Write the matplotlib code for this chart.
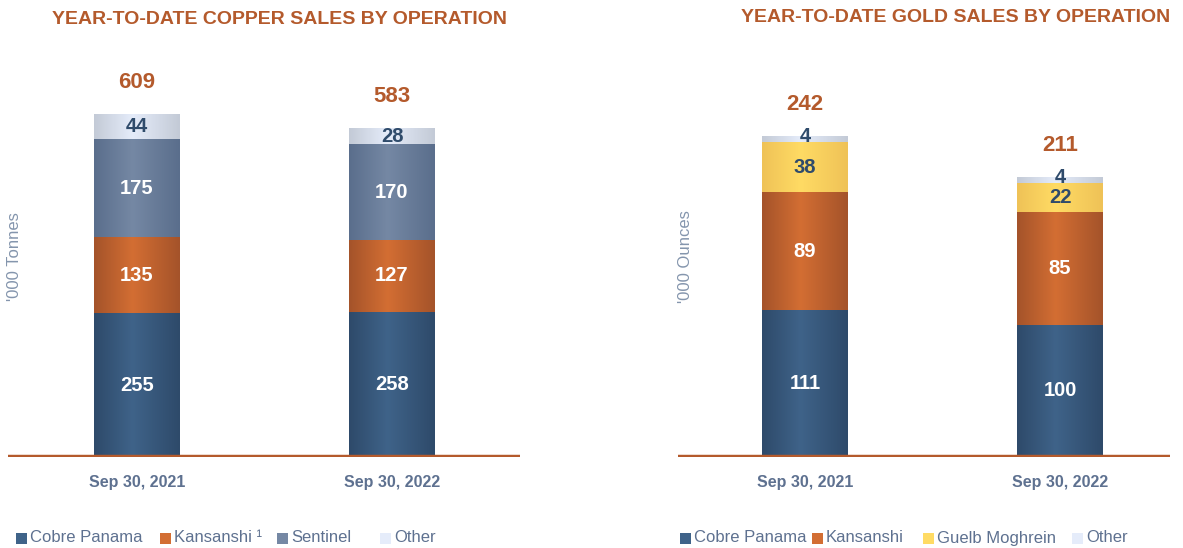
import numpy as np
import matplotlib.pyplot as plt
from matplotlib.colors import LinearSegmentedColormap
from matplotlib.patches import Rectangle

plt.rcParams['font.family'] = ['Liberation Sans', 'DejaVu Sans']

# copper data ('000 tonnes)
periods = ["Sep 30, 2021", "Sep 30, 2022"]
copper_ops = ["Cobre Panama", "Kansanshi", "Sentinel", "Other"]
copper_legend = ["Cobre Panama", "Kansanshi \u00b9", "Sentinel", "Other"]
copper_cobre = [255, 258]
copper_kansanshi = [135, 127]
copper_sentinel = [175, 170]
copper_other = [44, 28]
copper_total = [609, 583]

# gold data ('000 ounces)
gold_ops = ["Cobre Panama", "Kansanshi", "Guelb Moghrein", "Other"]
gold_cobre = [111, 100]
gold_kansanshi = [89, 85]
gold_guelb = [38, 22]
gold_other = [4, 4]
gold_total = [242, 211]

ORANGE = "#B45A2C"
DARK_TXT = "#2F4B6B"
AXIS_TXT = "#5E7190"

# (edge, centre) colours for the gradient fills
grad = {
    "Cobre Panama": ("#2E4A6A", "#3F6389"),
    "Kansanshi": ("#A4532A", "#D36E33"),
    "Sentinel": ("#5A6E8C", "#7588A4"),
    "Guelb Moghrein": ("#EFC257", "#FFDB64"),
    "Other": ("#C3CAD6", "#E5ECFA"),
}
label_col = {
    "Cobre Panama": "white", "Kansanshi": "white", "Sentinel": "white",
    "Guelb Moghrein": DARK_TXT, "Other": DARK_TXT,
}


def make_cmap(name):
    edge, mid = grad[name]
    return LinearSegmentedColormap.from_list(name, [(0, edge), (0.45, mid), (1, edge)])


def stacked(ax, ops, series, totals, width):
    x = np.arange(len(periods))
    bottom = np.zeros(len(periods))
    ramp = np.linspace(0, 1, 256).reshape(1, -1)
    for name, vals in zip(ops, series):
        bars = ax.bar(x, vals, width, bottom=bottom, color=grad[name][1], zorder=2)
        cm = make_cmap(name)
        for b, v in zip(bars, vals):
            x0, y0 = b.get_x(), b.get_y()
            ax.imshow(ramp, cmap=cm, aspect='auto', zorder=3,
                      extent=[x0, x0 + b.get_width(), y0, y0 + b.get_height()])
            if v < 10:
                ty = y0 + b.get_height()
            else:
                ty = y0 + b.get_height() / 2
            ax.text(b.get_x() + b.get_width() / 2, ty, str(v), ha='center', va='center',
                    color=label_col[name], fontsize=14.5, fontweight='bold', zorder=5)
        bottom = bottom + np.array(vals)
    for xi, t in zip(x, totals):
        ax.annotate(str(t), (xi, t), xytext=(0, 23), textcoords='offset points',
                    ha='center', va='center', color=ORANGE, fontsize=16,
                    fontweight='bold')
    ax.axhline(0, color=ORANGE, lw=3.2, zorder=4)
    ax.set_xticks(x)
    ax.set_xticklabels(periods, fontsize=11.5, fontweight='bold', color=AXIS_TXT)
    ax.tick_params(axis='x', length=0, pad=13)
    ax.set_yticks([])
    for s in ax.spines.values():
        s.set_visible(False)


fig = plt.figure(figsize=(11.83, 5.48), dpi=100)

ax1 = fig.add_axes([8 / 1183, 91 / 548, 512 / 1183, 397 / 548])
stacked(ax1, copper_ops, [copper_cobre, copper_kansanshi, copper_sentinel, copper_other],
        copper_total, 0.337)
ax1.set_xlim(-0.506, 1.502)
ax1.set_ylim(0, 705)

ax2 = fig.add_axes([678 / 1183, 91 / 548, 492 / 1183, 397 / 548])
stacked(ax2, gold_ops, [gold_cobre, gold_kansanshi, gold_guelb, gold_other],
        gold_total, 0.337)
ax2.set_xlim(-0.498, 1.431)
ax2.set_ylim(0, 300)

fig.text(279 / 1183, 1 - 20 / 548, "YEAR-TO-DATE COPPER SALES BY OPERATION",
         ha='center', va='center', color=ORANGE, fontsize=14, fontweight='bold')
fig.text(956 / 1183, 1 - 18 / 548, "YEAR-TO-DATE GOLD SALES BY OPERATION",
         ha='center', va='center', color=ORANGE, fontsize=14, fontweight='bold')

fig.text(15 / 1183, 1 - 257 / 548, "'000 Tonnes", rotation=90, ha='center', va='center',
         color="#8495AD", fontsize=12)
fig.text(685 / 1183, 1 - 257 / 548, "'000 Ounces", rotation=90, ha='center', va='center',
         color="#8495AD", fontsize=12)

# legends along the bottom
def legend_row(names, labels, xs):
    for name, lab, xp in zip(names, labels, xs):
        fig.add_artist(Rectangle((xp / 1183, 1 - 544 / 548), 11 / 1183, 11 / 548,
                                 transform=fig.transFigure, color=grad[name][1], lw=0))
        fig.text((xp + 14) / 1183, 1 - 538 / 548, lab, ha='left', va='center',
                 color=AXIS_TXT, fontsize=12)


legend_row(copper_ops, copper_legend, [16, 160, 277, 380])
legend_row(gold_ops, gold_ops, [680, 812, 923, 1072])

fig.savefig("out.png", dpi=100)
